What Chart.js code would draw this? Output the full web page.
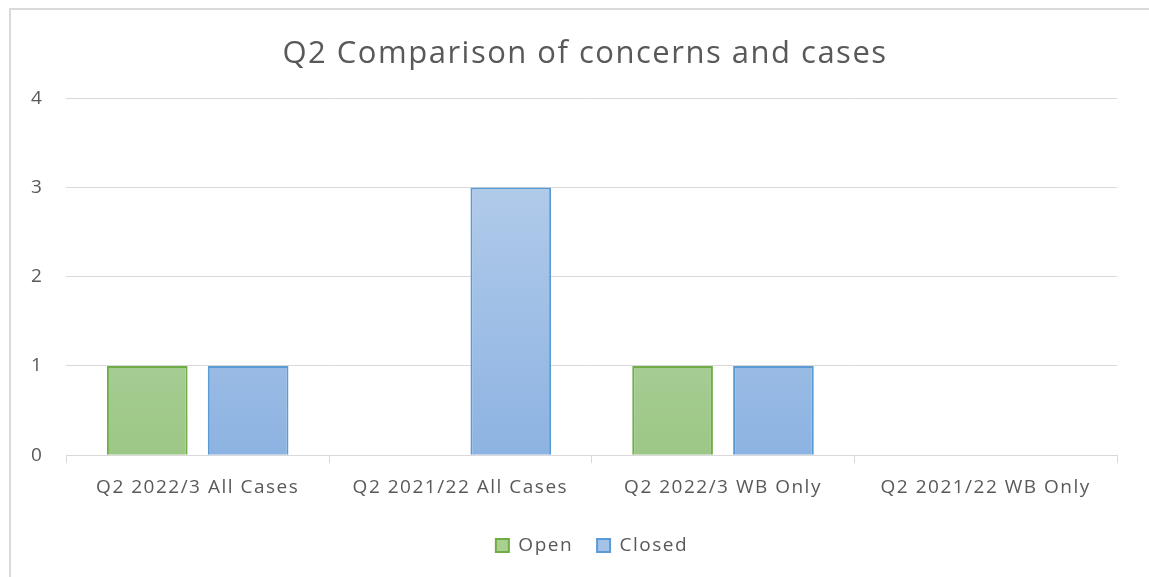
<!DOCTYPE html>
<html>
<head>
<meta charset="utf-8">
<script src="https://cdn.jsdelivr.net/npm/chart.js@4"></script>
<style>
  body { margin: 0; background: #fff; }
  #wrap { position: absolute; left: 0; top: 0; width: 1149px; height: 577px; }
  #frame { position: absolute; left: 9px; top: 8px; width: 1160px; height: 600px; border: 2px solid #d9d9d9; box-sizing: border-box; }
</style>
</head>
<body>
<div id="frame"></div>
<div id="wrap"><canvas id="grafica"></canvas></div>
<script>
const labels = ['Q2 2022/3 All Cases', 'Q2 2021/22 All Cases', 'Q2 2022/3 WB Only', 'Q2 2021/22 WB Only'];
const openValues = [1, 0, 1, 0];
const closedValues = [1, 3, 1, 0];
const yTicks = [0, 1, 2, 3, 4];

const graph = document.querySelector("#grafica");

function gradiente(top, bottom) {
	return function (ctx) {
		const area = ctx.chart.chartArea;
		if (!area) return bottom;
		const g = ctx.chart.ctx.createLinearGradient(0, area.top, 0, area.bottom);
		g.addColorStop(0, top);
		g.addColorStop(1, bottom);
		return g;
	};
}

// texto un poco mas espaciado, como en la imagen original
const espaciado = {
	id: 'espaciado',
	beforeLayout: function (chart) { chart.ctx.letterSpacing = '1.5px'; },
	beforeDraw: function (chart) { chart.ctx.letterSpacing = '1.5px'; },
	afterLayout: function (chart) {
		// titulo y leyenda centrados sobre el marco, no sobre el area del grafico
		if (chart.titleBlock) { chart.titleBlock.left = 30; chart.titleBlock.right = 1140; }
		if (chart.legend) { chart.legend.left = 40; chart.legend.right = 1144; }
	}
};

const data = {
	labels: labels,
	datasets: [{
		label: 'Open',
		data: openValues,
		backgroundColor: gradiente('#c3dcb6', '#9cc786'),
		borderColor: '#70ad47',
		borderWidth: 2,
		legendColor: '#a9d08e'
	}, {
		label: 'Closed',
		data: closedValues,
		backgroundColor: gradiente('#bcd2ec', '#8db3e2'),
		borderColor: '#5b9bd5',
		borderWidth: 2,
		legendColor: '#a4c2e8'
	}]
};

const config = {
	type: 'bar',
	data: data,
	plugins: [espaciado],
	options: {
		responsive: true,
		maintainAspectRatio: false,
		animation: false,
		layout: { padding: { left: 8, right: 32, top: 16, bottom: 12 } },
		datasets: { bar: { categoryPercentage: 0.768, barPercentage: 0.8 } },
		plugins: {
			title: {
				display: true,
				text: 'Q2 Comparison of concerns and cases',
				color: '#595959',
				font: { family: 'Open Sans', size: 31, weight: 'normal' },
				padding: { top: 20, bottom: 25 }
			},
			legend: {
				position: 'bottom',
				labels: {
					color: '#595959',
					font: { family: 'Open Sans', size: 19 },
					boxWidth: 13,
					boxHeight: 13,
					padding: 24,
					generateLabels: function (chart) {
						return chart.data.datasets.map(function (ds, i) {
							return {
								text: ds.label,
								fillStyle: ds.legendColor,
								strokeStyle: ds.borderColor,
								lineWidth: 2,
								fontColor: '#595959',
								datasetIndex: i
							};
						});
					}
				}
			},
			tooltip: { enabled: false }
		},
		scales: {
			x: {
				grid: { display: true, drawOnChartArea: false, color: '#d9d9d9', tickLength: 8, offset: true },
				border: { color: '#d9d9d9', width: 1 },
				ticks: { color: '#595959', font: { family: 'Open Sans', size: 19 }, padding: 13 }
			},
			y: {
				min: 0,
				max: 4,
				afterBuildTicks: function (axis) { axis.ticks = yTicks.map(v => ({ value: v })); },
				grid: { color: '#d9d9d9', drawTicks: false },
				border: { display: false },
				ticks: { color: '#595959', font: { family: 'Open Sans', size: 19 }, padding: 23 }
			}
		}
	}
};
new Chart(graph, config);
</script>
</body>
</html>
